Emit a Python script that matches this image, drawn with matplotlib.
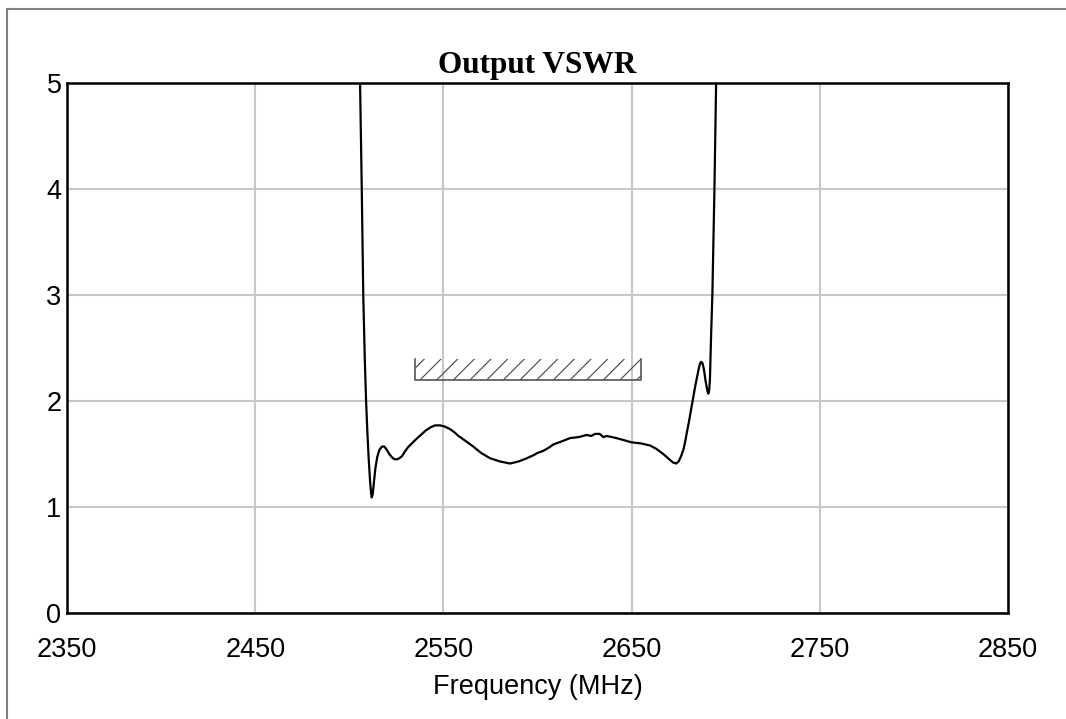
import matplotlib
matplotlib.use("Agg")
import matplotlib.pyplot as plt
from matplotlib.patches import Rectangle
from matplotlib.lines import Line2D

# ---- data ----
freq = [2505.3, 2505.7, 2506.6, 2507.4, 2508.2, 2508.9, 2509.6, 2510.3, 2511.0, 2511.5,
        2511.9, 2512.4, 2513.0, 2513.8, 2514.8, 2516.0, 2517.3, 2518.6, 2519.9, 2521.2,
        2522.6, 2524.0, 2525.3, 2526.6, 2528.0, 2529.4, 2531.0, 2533.2, 2535.5, 2538.0,
        2540.5, 2543.0, 2545.5, 2548.2, 2550.5, 2553.0, 2555.5, 2558.0, 2562.0, 2565.9,
        2570.0, 2574.8, 2580.0, 2585.4, 2590.0, 2594.3, 2598.0, 2600.0, 2603.1, 2606.0,
        2608.4, 2613.0, 2617.3, 2622.0, 2626.1, 2628.5, 2630.6, 2633.0, 2635.0, 2636.8,
        2642.0, 2650.0, 2655.0, 2659.8, 2663.0, 2666.8, 2670.0, 2672.0, 2673.6, 2675.0,
        2676.3, 2677.5, 2678.5, 2679.3, 2680.2, 2681.0, 2682.4, 2683.7, 2684.7, 2685.6,
        2686.3, 2686.9, 2687.6, 2688.4, 2689.2, 2690.0, 2690.5, 2690.8, 2691.2, 2691.6,
        2692.2, 2692.9, 2694.0, 2694.9, 2695.3]
vswr = [5.6, 5.0, 4.0, 3.0, 2.4, 2.0, 1.7, 1.45, 1.25, 1.14,
        1.09, 1.12, 1.22, 1.36, 1.47, 1.54, 1.57, 1.57, 1.54, 1.50,
        1.47, 1.45, 1.45, 1.46, 1.48, 1.52, 1.56, 1.60, 1.64, 1.68,
        1.72, 1.75, 1.77, 1.77, 1.76, 1.74, 1.71, 1.67, 1.62, 1.57,
        1.51, 1.46, 1.43, 1.41, 1.43, 1.46, 1.49, 1.51, 1.53, 1.56,
        1.59, 1.62, 1.65, 1.66, 1.68, 1.67, 1.69, 1.69, 1.66, 1.67,
        1.65, 1.61, 1.60, 1.58, 1.55, 1.50, 1.45, 1.42, 1.41, 1.43,
        1.48, 1.54, 1.62, 1.70, 1.78, 1.86, 2.00, 2.13, 2.22, 2.30,
        2.35, 2.37, 2.36, 2.30, 2.20, 2.12, 2.08, 2.07, 2.10, 2.20,
        2.60, 3.00, 4.0, 5.0, 5.6]

spec_f = [2535, 2655]
spec_v = [2.2, 2.4]

x_ticks = [2350, 2450, 2550, 2650, 2750, 2850]
y_ticks = [0, 1, 2, 3, 4, 5]

title = "Output VSWR"
xlabel = "Frequency (MHz)"

# ---- figure ----
fig = plt.figure(figsize=(10.66, 7.19), dpi=100)
ax = fig.add_axes([0.0629, 0.1474, 0.8827, 0.7372])

ax.set_xlim(x_ticks[0], x_ticks[-1])
ax.set_ylim(y_ticks[0], y_ticks[-1])
ax.set_xticks(x_ticks)
ax.set_yticks(y_ticks)
ax.grid(True, color="#c8c8c8", linewidth=1.5)
ax.set_axisbelow(True)

ax.plot(freq, vswr, color="black", linewidth=1.6, clip_on=True,
        solid_joinstyle="round")

# spec mask (hatched)
plt.rcParams["hatch.linewidth"] = 0.8
rect = Rectangle((spec_f[0], spec_v[0]), spec_f[1] - spec_f[0], spec_v[1] - spec_v[0],
                 fill=False, hatch="//", edgecolor="#444444", linewidth=0)
ax.add_patch(rect)
ax.plot([spec_f[0], spec_f[0], spec_f[1], spec_f[1]],
        [spec_v[1], spec_v[0], spec_v[0], spec_v[1]],
        color="#555555", linewidth=1.2)

for s in ax.spines.values():
    s.set_color("black")
    s.set_linewidth(1.8)

fam = ["Liberation Sans", "DejaVu Sans"]
ax.tick_params(length=0)
ax.tick_params(axis="x", pad=17)
ax.tick_params(axis="y", pad=4)
for lbl in ax.get_xticklabels() + ax.get_yticklabels():
    lbl.set_fontfamily(fam)
    lbl.set_fontsize(19.5)

ax.set_xlabel(xlabel, family=fam, fontsize=19.5, labelpad=8)
ax.set_title(title, family=["Liberation Serif", "DejaVu Serif"], fontweight="bold",
             fontsize=22.5, pad=7)

# figure border (left and top visible)
fig.add_artist(Line2D([7/1066, 7/1066], [0, 1 - 9/719], transform=fig.transFigure,
                      color="#808080", linewidth=1.5))
fig.add_artist(Line2D([7/1066, 1], [1 - 9/719, 1 - 9/719], transform=fig.transFigure,
                      color="#808080", linewidth=1.5))

fig.savefig("out.png", dpi=100)
